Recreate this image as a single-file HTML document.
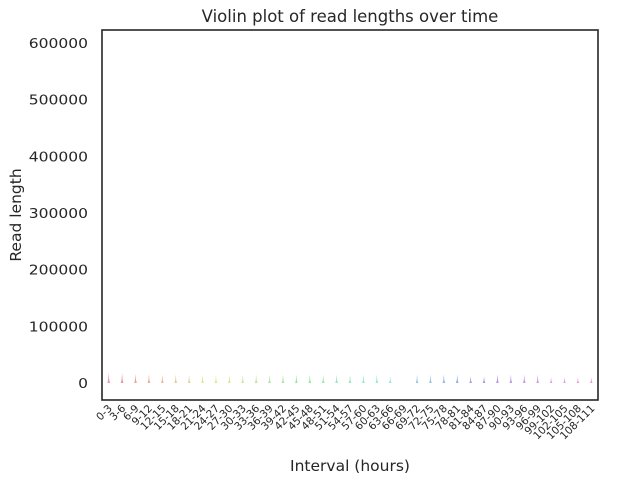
<!DOCTYPE html>
<html><head><meta charset="utf-8"><style>
body{margin:0;background:#fff;font-family:"DejaVu Sans","Liberation Sans",sans-serif}
</style></head><body>
<svg id="chart" width="621" height="483" xmlns="http://www.w3.org/2000/svg" font-family="DejaVu Sans, sans-serif">
<rect width="621" height="483" fill="#fff"/>
<text x="350" y="22" text-anchor="middle" font-size="16.5" fill="#262626">Violin plot of read lengths over time</text>
<g id="yticks"></g>
<g id="violins"></g>
<g id="xticks"></g>
<rect x="102" y="30" width="496" height="370" fill="none" stroke="#262626" stroke-width="1.6"/>
<text x="350" y="471" text-anchor="middle" font-size="15.5" fill="#262626">Interval (hours)</text>
<text x="21" y="215" text-anchor="middle" font-size="15.5" fill="#262626" transform="rotate(-90 21 215)">Read length</text>
</svg>
<script>
const categories=[];for(let i=0;i<37;i++)categories.push((i*3)+'-'+(i*3+3));
const medianLen=[6000,6000,5500,5500,5000,5000,5000,5000,5000,5000,5000,5000,5000,5000,5000,5000,5000,5000,5000,5000,5000,4000,0,5000,5000,5000,5000,4000,4000,5000,5000,5000,5000,3000,3000,3000,3000];
const maxLen=[18000,18000,16000,16000,15000,15000,15000,15000,15000,15000,15000,15000,15000,15000,15000,15000,15000,15000,15000,15000,15000,12000,0,15000,15000,15000,15000,12000,12000,15000,15000,15000,15000,10000,10000,10000,10000];
const yTicks=[0,100000,200000,300000,400000,500000,600000];
(function(){
const ns='http://www.w3.org/2000/svg';
const x0=102,x1=598,yMin=-30000,yMax=623000,yTop=30,yBot=400;
const y=v=>yBot-(v-yMin)/(yMax-yMin)*(yBot-yTop);
const bw=(x1-x0)/categories.length;
const x=i=>x0+bw*(i+0.5);
const yg=document.getElementById('yticks'),vg=document.getElementById('violins'),xg=document.getElementById('xticks');
yTicks.forEach(t=>{const e=document.createElementNS(ns,'text');
e.setAttribute('x',88);e.setAttribute('y',y(t)+5);e.setAttribute('text-anchor','end');e.setAttribute('font-size','13.5');e.setAttribute('fill','#262626');e.textContent=t;
e.setAttribute('transform','translate(88 0) scale(1.15 1) translate(-88 0)');


yg.appendChild(e);});
categories.forEach((c,i)=>{
 const hue=(350+i*330/36)%360;
 const col='hsl('+hue+',60%,55%)';
 if(maxLen[i]>0){
 const p=document.createElementNS(ns,'path');
 const cx=x(i);
 p.setAttribute('d','M'+cx+' '+y(maxLen[i])+' L'+(cx+0.5)+' '+y(medianLen[i])+' L'+(cx+1.3)+' '+y(0)+' L'+(cx-1.3)+' '+y(0)+' L'+(cx-0.5)+' '+y(medianLen[i])+' Z');
 p.setAttribute('fill',col);p.setAttribute('opacity','0.55');
 
 
 vg.appendChild(p);}
 const t=document.createElementNS(ns,'text');
 const tx=x(i)+4,ty=409;
 t.setAttribute('x',tx);t.setAttribute('y',ty);t.setAttribute('text-anchor','end');t.setAttribute('font-size','10.5');t.setAttribute('fill','#262626');
 t.setAttribute('transform','rotate(-45 '+tx+' '+ty+')');t.textContent=c;
 
 
 xg.appendChild(t);
});
})();
</script>
</body></html>
